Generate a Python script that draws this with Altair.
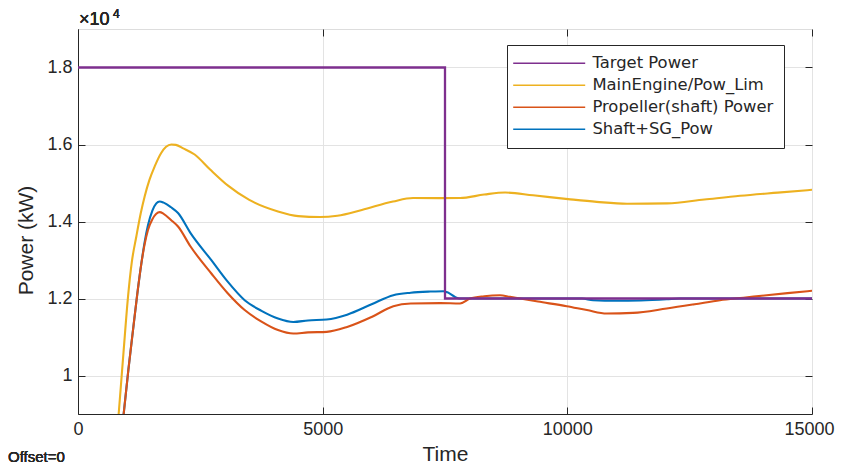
import altair as alt
import pandas as pd

# ---------------- data ----------------
SERIES = ["Target Power", "MainEngine/Pow_Lim", "Propeller(shaft) Power", "Shaft+SG_Pow"]
COLORS = ["#7E2F8E", "#EDB120", "#D95319", "#0072BD"]
X_TICKS = [0, 5000, 10000, 15000]
Y_TICKS = [10000, 12000, 14000, 16000, 18000]
X_DOM = [0, 15000]
Y_DOM = [9000, 19000]

target_t = [0, 7500, 7500, 15000]
target_p = [18000, 18000, 12000, 12000]

engine_t = [760, 831, 930, 1022, 1100, 1192, 1280, 1362, 1460, 1567, 1700, 1800, 1907, 2000,
            2150, 2384, 2700, 3066, 3500, 4087, 4500, 4946, 5300, 5800, 6438, 6847, 7398,
            7807, 8300, 8727, 9300, 10015, 10600, 11220, 12040, 12800, 13530, 14300, 15000]
engine_p = [7900, 9000, 10600, 12043, 12950, 13610, 14200, 14650, 15080, 15430, 15780, 15940,
            16000, 15990, 15900, 15740, 15350, 14930, 14560, 14260, 14140, 14115, 14150, 14300,
            14520, 14610, 14608, 14610, 14700, 14753, 14680, 14582, 14510, 14460, 14470, 14570,
            14667, 14750, 14823]

prop_t = [850, 933, 1030, 1124, 1210, 1295, 1360, 1430, 1520, 1600, 1669, 1750, 1900, 2044,
          2300, 2725, 3050, 3406, 3750, 4087, 4400, 4700, 5082, 5500, 6000, 6444, 6800, 7400,
          7807, 8011, 8300, 8624, 8829, 9400, 9987, 10400, 10805, 11343, 12031, 12600, 13120,
          13600, 14074, 14500, 15000]
prop_p = [8050, 9000, 10150, 11180, 12100, 12910, 13400, 13780, 14060, 14200, 14244, 14200,
          14040, 13870, 13350, 12650, 12150, 11700, 11400, 11180, 11090, 11120, 11133, 11260,
          11520, 11800, 11870, 11880, 11870, 11997, 12060, 12086, 12042, 11920, 11800, 11700,
          11610, 11626, 11740, 11850, 11956, 12020, 12086, 12140, 12200]

shaft_t = [850, 933, 1030, 1124, 1210, 1295, 1360, 1430, 1520, 1600, 1669, 1750, 1900, 2044,
           2300, 2725, 3050, 3406, 3750, 4087, 4400, 4700, 5082, 5500, 6000, 6444, 6800, 7200,
           7466, 7550, 7705, 7800, 8500, 10300, 10525, 11000, 11500, 12031, 12300, 15000]
shaft_p = [8050, 9000, 10150, 11180, 12100, 12910, 13450, 13900, 14280, 14470, 14520, 14490,
           14370, 14220, 13700, 12995, 12450, 11955, 11680, 11480, 11390, 11430, 11455, 11580,
           11850, 12086, 12150, 12180, 12190, 12160, 12040, 12000, 12000, 12000, 11955, 11940,
           11950, 11980, 12000, 12000]


def frame(name, t, p):
    return pd.DataFrame({"series": name, "t": t, "p": p, "i": range(len(t))})


df_target = frame(SERIES[0], target_t, target_p)
df_engine = frame(SERIES[1], engine_t, engine_p)
df_prop = frame(SERIES[2], prop_t, prop_p)
df_shaft = frame(SERIES[3], shaft_t, shaft_p)

# ---------------- styling ----------------
W, H = 734, 385
AX = "#262626"
FONT = "Liberation Sans"
xs = alt.Scale(domain=X_DOM, nice=False, zero=False)
ys = alt.Scale(domain=Y_DOM, nice=False, zero=False)

color = alt.Color(
    "series:N",
    scale=alt.Scale(domain=SERIES, range=COLORS),
    legend=alt.Legend(
        title=None, orient="none", legendX=429, legendY=16,
        symbolType="M0,0H14.4", symbolSize=100, symbolStrokeWidth=1.6, symbolOffset=-12,
        labelOffset=71, labelFont="DejaVu Sans", labelFontSize=16.4, labelColor=AX,
        rowPadding=5, padding=10, strokeColor=AX, fillColor="white", labelLimit=400,
    ),
)

main_x = alt.Axis(values=X_TICKS, title="Time", grid=True, gridColor="#e3e3e3", ticks=False,
                  tickSize=0, labelFlush=False, domainColor=AX, labelColor=AX, titleColor=AX,
                  labelFont=FONT, titleFont=FONT, labelFontSize=18, titleFontSize=21,
                  titleFontWeight="normal", labelPadding=6, titlePadding=5, format="d",
                  labelOffset={"condition": {"test": "datum.value == 15000", "value": -3},
                               "value": 0})
main_y = alt.Axis(values=Y_TICKS, title="Power (kW)", grid=True, gridColor="#e3e3e3", ticks=False,
                  tickSize=0, labelFlush=False, domainColor=AX, labelColor=AX, titleColor=AX,
                  labelFont=FONT, titleFont=FONT, labelFontSize=18, titleFontSize=21,
                  titleFontWeight="normal", labelPadding=6, labelExpr="'' + datum.value / 10000",
                  titleX=-42, titleY=211)


def tick_axis(values, orient, offset):
    return alt.Axis(values=values, orient=orient, offset=offset, labels=False, domain=False,
                    grid=False, title=None, tickSize=7, tickColor=AX, tickWidth=1)


def curve(df, x_axis, y_axis, width=2.1, interp="monotone"):
    return alt.Chart(df).mark_line(clip=True, strokeWidth=width, interpolate=interp).encode(
        x=alt.X("t:Q", scale=xs, axis=x_axis),
        y=alt.Y("p:Q", scale=ys, axis=y_axis),
        order="i:Q", color=color)


engine = curve(df_engine, main_x, main_y)
shaft = curve(df_shaft, tick_axis(X_TICKS, "bottom", -H), tick_axis(Y_TICKS, "left", -W))
prop = curve(df_prop, tick_axis(X_TICKS, "top", -H), tick_axis(Y_TICKS, "right", -W))
target = curve(df_target, None, None, width=2.3, interp="linear")

exp_main = alt.Chart(df_target).mark_text(align="left", baseline="alphabetic", font=FONT,
                                          fontSize=18, color=AX, text="\u00d710").encode(
    x=alt.value(1), y=alt.value(-4))
exp_sup = alt.Chart(df_target).mark_text(align="left", baseline="alphabetic", font=FONT,
                                         fontSize=12, color=AX, text="4").encode(
    x=alt.value(35), y=alt.value(-11))
offset_txt = alt.Chart(df_target).mark_text(align="left", baseline="alphabetic", font=FONT,
                                            fontSize=15, color=AX, text="Offset=0").encode(
    x=alt.value(-70), y=alt.value(433))

chart = alt.layer(engine, shaft, prop, target, exp_main, exp_sup, offset_txt).resolve_scale(
    x="independent", y="independent"
).properties(
    width=W, height=H,
    autosize=alt.AutoSizeParams(type="none"),
    padding={"left": 70, "top": 21, "right": 23, "bottom": 51},
).configure_view(stroke=AX, strokeWidth=1).configure(background="white")

chart.save("out.html", embed_options={"renderer": "svg", "actions": False})
